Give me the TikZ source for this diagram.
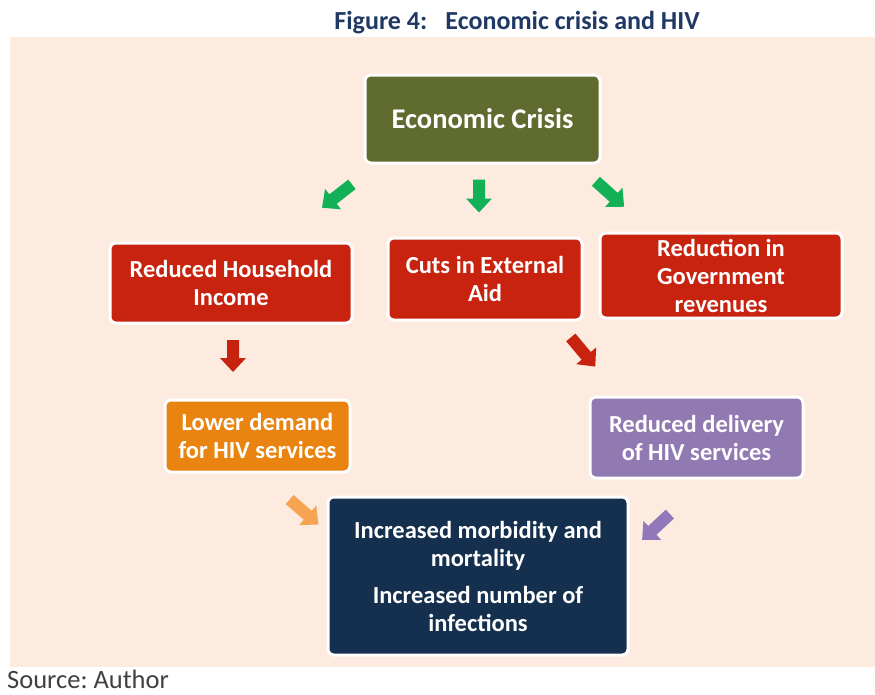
\documentclass[tikz,border=0pt]{standalone}
\usepackage{fontspec}
\setmainfont{Carlito}
\frenchspacing

\definecolor{panelbg}{HTML}{FDEBDF}
\definecolor{titleblue}{HTML}{1F3864}
\definecolor{olivebox}{HTML}{5F6B2F}
\definecolor{redbox}{HTML}{C8230F}
\definecolor{orangebox}{HTML}{E8840F}
\definecolor{purplebox}{HTML}{9179B2}
\definecolor{navybox}{HTML}{15304F}
\definecolor{greenarrow}{HTML}{12B157}
\definecolor{redarrow}{HTML}{C8230F}
\definecolor{orangearrow}{HTML}{F6A352}
\definecolor{purplearrow}{HTML}{9179B9}
\definecolor{sourcegray}{HTML}{404040}

\begin{document}
\begin{tikzpicture}[x=1pt,y=-1pt,
  box/.style={draw=white, line width=3pt, rounded corners=6pt, text=white,
    font=\bfseries\fontsize{24.5}{28}\selectfont, align=center, inner sep=0pt},
  % block arrow pointing along +x, centred on the pic origin; #1 = total length
  blockarrow/.pic={
    \fill[pic actions]
      (-#1/2,-6) -- (#1/2-14,-6) -- (#1/2-14,-13) -- (#1/2,0)
      -- (#1/2-14,13) -- (#1/2-14,6) -- (-#1/2,6) -- cycle;
  }
]
\useasboundingbox (0,0) rectangle (875,694);

% background panel
\fill[panelbg] (10,37) rectangle (875,667);

% title and source line
\node[text=titleblue, font=\bfseries\fontsize{26}{30}\selectfont] (title) at (517,23)
  {Figure 4:\hspace{0.7em}Economic crisis and HIV};
\node[anchor=base west, inner sep=0pt, text=sourcegray, font=\fontsize{26.5}{30}\selectfont] (source) at (7,688)
  {Source: Author};

% boxes
\node[box, fill=olivebox, minimum width=235pt, minimum height=88pt,
  font=\bfseries\fontsize{28.5}{32}\selectfont] (ec) at (482.5,119) {Economic Crisis};
\node[box, fill=redbox, minimum width=242pt, minimum height=80pt] (rhi) at (231,283)
  {Reduced Household\\Income};
\node[box, fill=redbox, minimum width=194pt, minimum height=82pt] (cea) at (485,279)
  {Cuts in External\\Aid};
\node[box, fill=redbox, minimum width=242pt, minimum height=85pt] (rgr) at (721,275.5)
  {Reduction in\\Government\\revenues};
\node[box, fill=orangebox, minimum width=185pt, minimum height=72pt] (ld) at (257.5,436)
  {Lower demand\\for HIV services};
\node[box, fill=purplebox, minimum width=213pt, minimum height=81pt] (rd) at (696.5,437.5)
  {Reduced delivery\\of HIV services};
\node[box, fill=navybox, minimum width=300pt, minimum height=158pt] (out) at (478,576)
  {Increased morbidity and\\mortality\\[9pt]Increased number of\\infections};

% block arrows
\pic[fill=greenarrow, rotate=218] (g1) at (337,196) {blockarrow=38};
\pic[fill=greenarrow, rotate=-90] (g2) at (479,196) {blockarrow=33};
\pic[fill=greenarrow, rotate=-42] (g3) at (610,194) {blockarrow=38};
\pic[fill=redarrow, rotate=-90] (r1) at (233,356) {blockarrow=32};
\pic[fill=redarrow, rotate=-50] (r2) at (583,352) {blockarrow=38};
\pic[fill=orangearrow, rotate=-41] (o1) at (304,512) {blockarrow=38};
\pic[fill=purplearrow, rotate=223] (p1) at (656,527) {blockarrow=38};
\end{tikzpicture}
\end{document}
